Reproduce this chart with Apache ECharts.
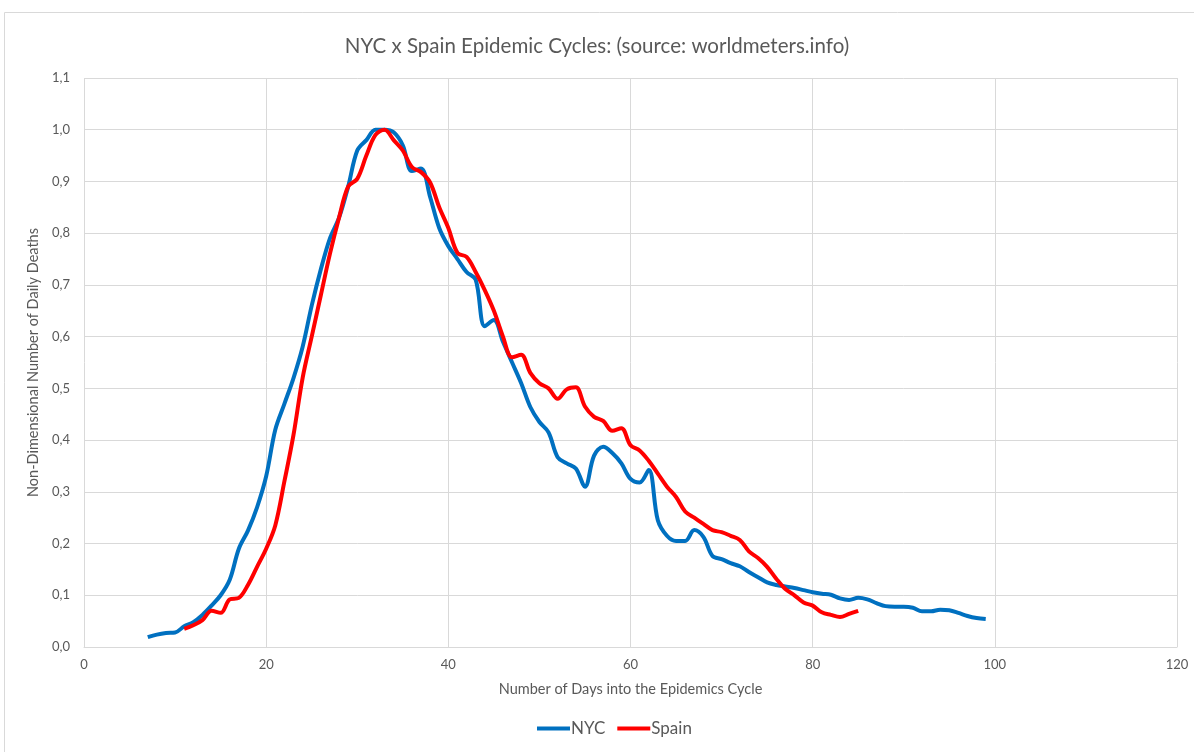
<!DOCTYPE html>
<html>
<head>
<meta charset="utf-8">
<script src="https://cdn.jsdelivr.net/npm/echarts@6/dist/echarts.min.js"></script>
<style>
  html, body { margin: 0; padding: 0; background: #fff; }
  #chart { width: 1194px; height: 752px; }
</style>
</head>
<body>
<div id="chart"></div>
<script>
// days into the cycle, first day of each series
const nycStart = 7;
const spainStart = 11;

// non-dimensional daily deaths, one value per day
const nycValues = [
  0.019, 0.024, 0.027, 0.028, 0.040, 0.048, 0.062, 0.080, 0.100, 0.130,
  0.190, 0.225, 0.270, 0.330, 0.420, 0.470, 0.520, 0.580, 0.660, 0.730,
  0.790, 0.830, 0.890, 0.960, 0.980, 1.000, 1.000, 0.995, 0.970, 0.920,
  0.925, 0.870, 0.810, 0.775, 0.750, 0.725, 0.710, 0.620, 0.632, 0.590,
  0.550, 0.510, 0.464, 0.435, 0.415, 0.367, 0.355, 0.345, 0.310, 0.370,
  0.387, 0.375, 0.355, 0.325, 0.318, 0.342, 0.245, 0.215, 0.205, 0.205,
  0.226, 0.213, 0.176, 0.170, 0.162, 0.156, 0.145, 0.135, 0.125, 0.120,
  0.117, 0.114, 0.110, 0.106, 0.103, 0.101, 0.094, 0.091, 0.095, 0.092,
  0.085, 0.079, 0.078, 0.078, 0.076, 0.069, 0.069, 0.072, 0.071, 0.066,
  0.060, 0.056, 0.054
];
const spainValues = [
  0.035, 0.042, 0.052, 0.070, 0.066, 0.092, 0.095, 0.120, 0.155, 0.190,
  0.235, 0.320, 0.410, 0.520, 0.600, 0.680, 0.760, 0.830, 0.890, 0.905,
  0.950, 0.990, 1.000, 0.980, 0.960, 0.928, 0.918, 0.898, 0.850, 0.810,
  0.762, 0.754, 0.725, 0.690, 0.650, 0.600, 0.560, 0.565, 0.530, 0.510,
  0.500, 0.480, 0.498, 0.502, 0.465, 0.445, 0.437, 0.418, 0.423, 0.390,
  0.380, 0.360, 0.335, 0.310, 0.290, 0.262, 0.250, 0.238, 0.226, 0.222,
  0.215, 0.207, 0.185, 0.172, 0.155, 0.132, 0.112, 0.100, 0.086, 0.080,
  0.067, 0.062, 0.058, 0.064, 0.070
];

const seriesNames = ['NYC', 'Spain'];
const seriesColors = ['#0070C0', '#FF0000'];

const toPairs = (start, values) => values.map((v, i) => [start + i, v]);

const txt = '#595959';
const gridColor = '#d9d9d9';
const font = 'Lato, "Open Sans", sans-serif';

const myChart = echarts.init(document.getElementById('chart'));
const option = {
  animation: false,
  textStyle: { fontFamily: font },
  title: {
    text: 'NYC x Spain Epidemic Cycles: (source: worldmeters.info)',
    left: 'center',
    top: 31,
    textStyle: { color: txt, fontSize: 20.5, fontWeight: 'normal', fontFamily: font }
  },
  legend: {
    bottom: 10,
    left: 532,
    itemWidth: 33,
    itemHeight: 4,
    itemGap: 12,
    icon: 'rect',
    data: seriesNames,
    textStyle: { color: txt, fontSize: 17, padding: [0, 0, 0, -4] }
  },
  grid: { left: 84, right: 17, top: 78, bottom: 105 },
  xAxis: {
    type: 'value',
    min: 0, max: 120, interval: 20,
    name: 'Number of Days into the Epidemics Cycle',
    nameLocation: 'middle',
    nameGap: 35,
    nameTextStyle: { color: txt, fontSize: 14.5 },
    axisLine: { lineStyle: { color: gridColor } },
    axisTick: { show: false },
    axisLabel: { color: txt, fontSize: 13, margin: 11 },
    splitLine: { lineStyle: { color: gridColor } }
  },
  yAxis: {
    type: 'value',
    min: 0, max: 1.1, interval: 0.1,
    name: 'Non-Dimensional Number of Daily Deaths',
    nameLocation: 'middle',
    nameGap: 40,
    nameTextStyle: { color: txt, fontSize: 14.5 },
    axisLine: { show: false },
    axisTick: { show: false },
    axisLabel: {
      color: txt, fontSize: 13, margin: 14,
      formatter: v => v.toFixed(1).replace('.', ',')
    },
    splitLine: { lineStyle: { color: gridColor } }
  },
  series: [
    {
      name: seriesNames[0],
      type: 'line',
      data: toPairs(nycStart, nycValues),
      smooth: 0.35,
      showSymbol: false,
      lineStyle: { width: 4, color: seriesColors[0] },
      itemStyle: { color: seriesColors[0] }
    },
    {
      name: seriesNames[1],
      type: 'line',
      data: toPairs(spainStart, spainValues),
      smooth: 0.35,
      showSymbol: false,
      lineStyle: { width: 4, color: seriesColors[1] },
      itemStyle: { color: seriesColors[1] }
    }
  ],
  graphic: [{
    type: 'rect',
    shape: { x: 4.5, y: 12.5, width: 1200, height: 760 },
    style: { fill: 'none', stroke: gridColor, lineWidth: 1 },
    silent: true
  }]
};
myChart.setOption(option);
</script>
</body>
</html>
